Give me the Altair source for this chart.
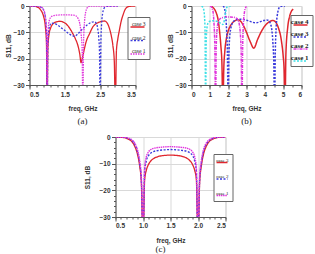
import altair as alt
import pandas as pd

# ---------------- panel (a) ----------------
A_F_CASE3 = [0.5, 0.6, 0.7, 0.75, 0.8, 0.85, 0.9, 0.95, 0.98, 1.0, 1.02, 1.05, 1.1, 1.15, 1.2, 1.3,
             1.36, 1.45, 1.55, 1.65, 1.73, 1.8, 1.87, 1.92, 1.96, 2.0, 2.05, 2.1, 2.2, 2.29, 2.4,
             2.48, 2.55, 2.62, 2.7, 2.75, 2.81, 2.86, 2.9, 2.93, 2.96, 3.0, 3.04, 3.1, 3.15, 3.2,
             3.25, 3.3, 3.4, 3.5]
A_S_CASE3 = [0, -0.05, -0.3, -0.6, -1.2, -2.2, -4.0, -8.0, -14, -40, -16, -11, -8.3, -7.0, -6.4, -5.9,
             -5.8, -6.1, -7.0, -8.7, -10.6, -12.5, -15, -18, -21.5, -19.5, -16.5, -13.7, -10.5, -8.0, -6.6,
             -6.1, -5.8, -5.7, -6.5, -8.0, -11, -15, -21, -40, -17, -12.5, -9.5, -5.5, -3.3, -1.5,
             -0.6, -0.2, -0.05, 0]

A_F_CASE2 = [0.5, 0.7, 0.8, 0.85, 0.9, 0.95, 0.98, 1.0, 1.02, 1.05, 1.08, 1.12, 1.2, 1.3, 1.4, 1.5,
             1.6, 1.7, 1.77, 1.85, 1.95, 2.05, 2.15, 2.25, 2.33, 2.39, 2.43, 2.46, 2.48, 2.5, 2.52,
             2.54, 2.57, 2.6, 2.64, 2.7, 2.8, 3.0]
A_S_CASE2 = [0, -0.05, -0.3, -0.7, -1.6, -4.5, -10, -40, -14, -8.8, -7.3, -6.5, -6.6, -7.3, -8.3, -9.3,
             -10.4, -11.2, -11.5, -10.8, -9.4, -8.1, -7.0, -6.2, -6.0, -6.6, -8.5, -12, -17, -40, -14,
             -7.0, -2.8, -1.2, -0.4, -0.1, 0, 0]

A_F_CASE1 = [0.5, 0.75, 0.82, 0.88, 0.93, 0.97, 0.99, 1.0, 1.01, 1.03, 1.06, 1.1, 1.15, 1.25, 1.4, 1.6,
             1.75, 1.82, 1.87, 1.92, 1.96, 1.99, 2.01, 2.03, 2.06, 2.09, 2.12, 2.16, 2.22, 2.3, 3.0]
A_S_CASE1 = [0, -0.05, -0.3, -1.0, -2.6, -7.0, -14, -40, -15, -8.5, -5.5, -4.3, -3.8, -3.5, -3.4, -3.4,
             -3.5, -3.8, -4.6, -6.5, -10.5, -17, -40, -14, -5.5, -2.3, -1.0, -0.3, -0.05, 0, 0]

# ---------------- panel (b) ----------------
B_F_CASE4 = [1.1, 1.16, 1.25, 1.35, 1.45, 1.53, 1.6, 1.66, 1.71, 1.76, 1.82, 1.9, 2.0, 2.1, 2.2, 2.35,
             2.5, 2.65, 2.8, 3.0, 3.2, 3.4, 3.6, 3.8, 4.0, 4.2, 4.45, 4.6, 4.75, 4.9, 5.0, 5.05, 5.1,
             5.15, 5.25, 5.35, 5.45, 5.55]
B_S_CASE4 = [-0.1, -0.5, -1.2, -2.6, -5.2, -9.5, -15, -22, -40, -24, -17, -12.5, -9.5, -7.8, -6.7, -5.7,
             -5.2, -5.6, -7.0, -10, -13.5, -16, -12.8, -9.8, -7.6, -6.2, -5.5, -6.2, -8.5, -13, -19, -24, -40,
             -18, -8.0, -4.0, -2.0, -1.2]

B_F_CASE3 = [1.72, 1.78, 1.83, 1.88, 1.92, 1.96, 2.0, 2.04, 2.08, 2.15, 2.25, 2.35, 2.5, 2.7, 2.9, 3.1,
             3.3, 3.5, 3.7, 3.9, 4.1, 4.2, 4.3, 4.38, 4.44, 4.49, 4.53, 4.57, 4.62, 4.68, 4.74, 4.8,
             4.9, 5.1]
B_S_CASE3 = [0, -0.6, -2.0, -5.0, -10, -18, -40, -19, -12, -8.3, -6.3, -5.5, -5.1, -5.0, -5.2, -5.6,
             -6.1, -6.4, -6.1, -5.6, -5.3, -5.5, -6.6, -9.0, -14, -22, -40, -18, -8.0, -3.5, -1.4, -0.4,
             -0.1, 0]

B_F_CASE2 = [1.0, 1.08, 1.14, 1.19, 1.23, 1.27, 1.31, 1.35, 1.4, 1.46, 1.55, 1.7, 1.9, 2.1, 2.3, 2.45,
             2.55, 2.62, 2.67, 2.71, 2.75, 2.79, 2.83, 2.88, 2.93, 3.0]
B_S_CASE2 = [0, -0.3, -1.2, -3.0, -7.0, -15, -40, -15, -8.5, -6.0, -4.9, -4.4, -4.2, -4.2, -4.3, -4.6,
             -5.5, -7.5, -11, -18, -40, -16, -7.0, -2.8, -1.0, -0.2]

B_F_CASE1 = [0.55, 0.62, 0.67, 0.71, 0.74, 0.77, 0.8, 0.84, 0.9, 1.0, 1.15, 1.3, 1.45, 1.6, 1.7, 1.76,
             1.81, 1.86, 1.91, 1.97, 2.05, 2.2]
B_S_CASE1 = [0, -0.5, -1.5, -4.0, -10, -40, -14, -8.5, -6.5, -5.8, -5.6, -5.7, -6.0, -6.6, -7.0, -6.5,
             -4.5, -2.2, -0.8, -0.2, 0, 0]

# ---------------- panel (c) ----------------
C_FREQ = [0.5, 0.6, 0.65, 0.7, 0.75, 0.8, 0.85, 0.9, 0.94, 0.97, 1.0, 1.03, 1.06, 1.1, 1.15, 1.2, 1.3,
          1.4, 1.5, 1.6, 1.7, 1.8, 1.85, 1.9, 1.94, 1.97, 2.0, 2.03, 2.06, 2.1, 2.15, 2.2, 2.25, 2.3,
          2.35, 2.4, 2.5]
C_S_CASE3 = [-0.1, -0.1, -0.2, -0.5, -1.0, -1.8, -3.5, -6.5, -11, -17, -40, -16, -12.5, -10.3, -8.8, -8.0,
             -7.2, -6.9, -6.8, -6.9, -7.2, -8.0, -8.8, -10.3, -12.5, -16, -40, -17, -11, -6.5, -3.5, -1.8,
             -1.0, -0.5, -0.2, -0.1, -0.1]
C_S_CASE2 = [0, 0, -0.1, -0.3, -0.7, -1.4, -2.8, -5.5, -10, -16, -40, -13, -9.0, -7.0, -5.9, -5.4,
             -5.0, -4.8, -4.7, -4.8, -5.0, -5.4, -5.9, -7.0, -9.0, -13, -40, -16, -10, -5.5, -2.8, -1.4,
             -0.7, -0.3, -0.1, 0, 0]
C_S_CASE1 = [0, 0, -0.1, -0.2, -0.5, -1.1, -2.3, -4.8, -9.0, -15, -40, -11.5, -7.5, -5.6, -4.6, -4.2,
             -3.9, -3.7, -3.6, -3.7, -3.9, -4.2, -4.6, -5.6, -7.5, -11.5, -40, -15, -9.0, -4.8, -2.3, -1.1,
             -0.5, -0.2, -0.1, 0, 0]

RED = "#e0262e"
BLUE = "#3b3bdc"
MAGENTA = "#e035dc"
CYAN = "#3fe0e6"

AXIS_FONT = "Liberation Sans"
SERIF = "Liberation Serif"


def frame(series):
    rows = []
    for name, freqs, vals in series:
        for f, v in zip(freqs, vals):
            rows.append({"freq": f, "s11": v, "case": name})
    return pd.DataFrame(rows)


def panel(df, cases, colors, dashes, widths, x_dom, x_major, x_minor, fmt, w, h,
          leg, caption, cap_dx, cap_offset, x_label_pad, x_title_pad, y_title_pad):
    base = alt.Chart(df)
    # each label sits above its line sample: right-aligned to the sample's end,
    # with its baseline on the sample
    legend = alt.Legend(
        orient="none", legendX=leg["x"], legendY=leg["y"], title=None, direction="vertical",
        symbolType="stroke", symbolSize=leg["len"] ** 2, labelBaseline="bottom",
        labelAlign="right", labelOffset=0, labelFont=SERIF, labelFontSize=leg["font"],
        labelFontWeight=leg["weight"], labelColor="#222", rowPadding=leg["row"], padding=leg["pad"],
        strokeColor="#666", fillColor="white", symbolOffset=0,
    )
    lines = base.mark_line(clip=True, interpolate="monotone").encode(
        x=alt.X("freq:Q", scale=alt.Scale(domain=x_dom, nice=False, zero=False),
                axis=alt.Axis(values=x_major, format=fmt, title="freq, GHz", grid=True,
                              gridColor="#d9d9d9", tickSize=4, labelPadding=x_label_pad,
                              titlePadding=x_title_pad)),
        y=alt.Y("s11:Q", scale=alt.Scale(domain=[-30, 0], nice=False, zero=False),
                axis=alt.Axis(values=[0, -10, -20, -30], title="S11, dB", grid=True,
                              gridColor="#d9d9d9", tickSize=4, labelPadding=1.5,
                              titlePadding=y_title_pad)),
        color=alt.Color("case:N", scale=alt.Scale(domain=cases, range=colors), legend=legend),
        strokeDash=alt.StrokeDash("case:N", scale=alt.Scale(domain=cases, range=dashes)),
        strokeWidth=alt.StrokeWidth("case:N", scale=alt.Scale(domain=cases, range=widths)),
        order=alt.Order("case:N"),
    )
    # minor tick marks on both axes
    minor = base.mark_line(strokeOpacity=0).encode(
        x=alt.X("freq:Q", axis=alt.Axis(values=x_minor, labels=False, tickSize=2, domain=False,
                                         grid=False, title=None, orient="bottom")),
        y=alt.Y("s11:Q", axis=alt.Axis(values=list(range(-30, 1, 2)), labels=False, tickSize=2,
                                        domain=False, grid=False, title=None, orient="left")),
    )
    return alt.layer(lines, minor).resolve_axis(x="independent", y="independent").properties(
        width=w, height=h,
        title=alt.Title(caption, orient="bottom", font=SERIF, fontSize=9, fontWeight="normal",
                        color="#222", frame="group", dx=cap_dx, offset=cap_offset),
    )


df_a = frame([("case 3", A_F_CASE3, A_S_CASE3),
              ("case 2", A_F_CASE2, A_S_CASE2),
              ("case 1", A_F_CASE1, A_S_CASE1)])
df_b = frame([("case 4", B_F_CASE4, B_S_CASE4),
              ("case 3", B_F_CASE3, B_S_CASE3),
              ("case 2", B_F_CASE2, B_S_CASE2),
              ("case 1", B_F_CASE1, B_S_CASE1)])
df_c = frame([("case 3", C_FREQ, C_S_CASE3),
              ("case 2", C_FREQ, C_S_CASE2),
              ("case 1", C_FREQ, C_S_CASE1)])

pa = panel(df_a, ["case 3", "case 2", "case 1"], [RED, BLUE, MAGENTA],
           [[1, 0], [2, 1.5], [1.5, 1]], [1.3, 1.3, 1.8],
           [0.5, 3.5], [0.5, 1.5, 2.5, 3.5], [x / 10 for x in range(5, 36, 2)], ".1f",
           106, 79,
           dict(x=98, y=11, len=14, font=5.5, weight="normal", row=2.5, pad=2),
           "(a)", 0, 5, 2, 8, 1)
pb = panel(df_b, ["case 4", "case 3", "case 2", "case 1"], [RED, BLUE, MAGENTA, CYAN],
           [[1, 0], [2, 1.5], [3, 1, 1, 1], [2, 1.5]], [1.5, 1.5, 1.5, 1.5],
           [0, 6], [0, 1, 2, 3, 4, 5, 6], [x / 2 for x in range(0, 13)], "d",
           110, 79,
           dict(x=99, y=9, len=14, font=7, weight="bold", row=1, pad=2),
           "(b)", 0, 5, 2, 8, 1)
pc = panel(df_c, ["case 3", "case 2", "case 1"], [RED, BLUE, MAGENTA],
           [[1, 0], [2, 1.5], [1.5, 0.7]], [1.3, 1.4, 1.9],
           [0.5, 2.5], [0.5, 1.0, 1.5, 2.0, 2.5], [x / 10 for x in range(5, 26)], ".1f",
           110, 80,
           dict(x=98, y=17, len=11, font=5, weight="normal", row=6.5, pad=2),
           "(c)", -10, 0.5, 1, 9, 8)

# blank strip that sets the left offset of the lower panel
spacer = alt.Chart(pd.DataFrame({"v": [0]})).mark_point(opacity=0).properties(
    width=53, height=10, view=alt.ViewBackground(stroke="transparent"))

ind = dict(color="independent", strokeDash="independent", strokeWidth="independent",
           x="independent", y="independent")
ind_leg = dict(color="independent", strokeDash="independent", strokeWidth="independent")

top = alt.hconcat(pa, pb, spacing=16).resolve_scale(**ind).resolve_legend(**ind_leg)
bottom = alt.hconcat(spacer, pc, spacing=0).resolve_scale(**ind).resolve_legend(**ind_leg)
chart = alt.vconcat(top, bottom, spacing=6).resolve_scale(**ind).resolve_legend(**ind_leg)

chart = chart.configure(padding={"left": 4.5, "top": 2, "right": 0, "bottom": 0}).configure_view(
    stroke="#cfcfcf").configure_axis(
    labelFont=AXIS_FONT, labelFontSize=6.5, labelFontWeight="bold", labelColor="#333",
    titleFont=AXIS_FONT, titleFontSize=6.5, titleFontWeight="bold", titleColor="#333",
    domainColor="#555", tickColor="#555")

chart.save("out.html", embed_options={"renderer": "svg", "actions": False})
